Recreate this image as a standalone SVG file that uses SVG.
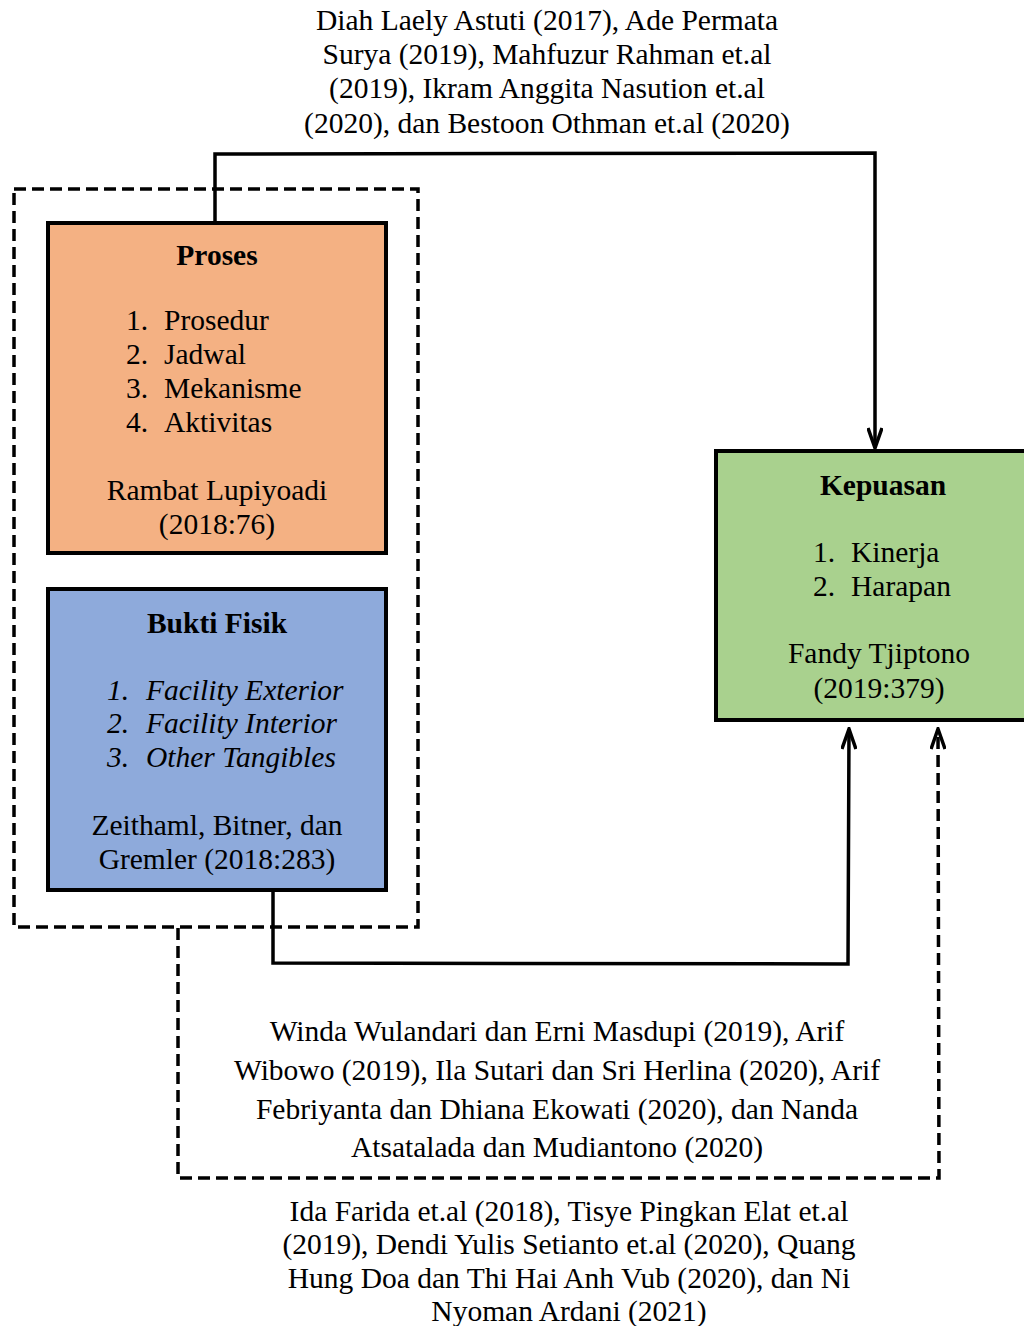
<svg xmlns="http://www.w3.org/2000/svg" width="1024" height="1326" viewBox="0 0 1024 1326">
<style>
text{font-family:'Liberation Serif','Times New Roman',serif;font-size:29.5px;fill:#000}
.c{text-anchor:middle}
.b{font-weight:bold}
.i{font-style:italic}
.box{stroke:#000;stroke-width:4}
.ln{fill:none;stroke:#000;stroke-width:3.5}
.dash{fill:none;stroke:#000;stroke-width:3.5;stroke-dasharray:12 6}
</style>
<defs>
<marker id="ah" viewBox="0 0 24 16" refX="22" refY="8" markerWidth="24" markerHeight="16" markerUnits="userSpaceOnUse" orient="auto">
<path d="M2,1 L22,8 L2,15" fill="none" stroke="#000" stroke-width="3.5"/>
</marker>
</defs>
<rect width="1024" height="1326" fill="#fff"/>
<g id="group-box">
<rect x="14" y="189" width="404" height="738" class="dash"/>
</g>
<g id="connectors">
<polyline class="ln" points="215,222 215,154 875,153 875,448" marker-end="url(#ah)"/>
<polyline class="ln" points="273,891 273,963 848,964 849,729" marker-end="url(#ah)"/>
<polyline class="dash" points="178,928 178,1178 939,1178 938,729" marker-end="url(#ah)"/>
</g>
<g id="node-proses">
<rect x="48" y="223" width="338" height="330" fill="#F4B183" class="box"/>
<text x="217" y="265" class="c b">Proses</text>
<text x="126" y="330">1.</text><text x="164" y="330">Prosedur</text>
<text x="126" y="364">2.</text><text x="164" y="364">Jadwal</text>
<text x="126" y="398">3.</text><text x="164" y="398">Mekanisme</text>
<text x="126" y="432">4.</text><text x="164" y="432">Aktivitas</text>
<text x="217" y="500" class="c">Rambat Lupiyoadi</text>
<text x="217" y="534" class="c">(2018:76)</text>
</g>
<g id="node-bukti">
<rect x="48" y="589" width="338" height="301" fill="#8EAADB" class="box"/>
<text x="217" y="633" class="c b">Bukti Fisik</text>
<text x="107" y="700" class="i">1.</text><text x="146" y="700" class="i">Facility Exterior</text>
<text x="107" y="733" class="i">2.</text><text x="146" y="733" class="i">Facility Interior</text>
<text x="107" y="767" class="i">3.</text><text x="146" y="767" class="i">Other Tangibles</text>
<text x="217" y="835" class="c">Zeithaml, Bitner, dan</text>
<text x="217" y="869" class="c">Gremler (2018:283)</text>
</g>
<g id="node-kepuasan">
<rect x="716" y="451" width="320" height="269" fill="#A9D18E" class="box"/>
<text x="883" y="495" class="c b">Kepuasan</text>
<text x="813" y="562">1.</text><text x="851" y="562">Kinerja</text>
<text x="813" y="596">2.</text><text x="851" y="596">Harapan</text>
<text x="879" y="663" class="c">Fandy Tjiptono</text>
<text x="879" y="698" class="c">(2019:379)</text>
</g>
<g id="label-top">
<text x="547" y="30" class="c">Diah Laely Astuti (2017), Ade Permata</text>
<text x="547" y="64" class="c">Surya (2019), Mahfuzur Rahman et.al</text>
<text x="547" y="98" class="c">(2019), Ikram Anggita Nasution et.al</text>
<text x="547" y="133" class="c">(2020), dan Bestoon Othman et.al (2020)</text>
</g>
<g id="label-middle">
<text x="557" y="1041" class="c">Winda Wulandari dan Erni Masdupi (2019), Arif</text>
<text x="557" y="1080" class="c">Wibowo (2019), Ila Sutari dan Sri Herlina (2020), Arif</text>
<text x="557" y="1119" class="c">Febriyanta dan Dhiana Ekowati (2020), dan Nanda</text>
<text x="557" y="1157" class="c">Atsatalada dan Mudiantono (2020)</text>
</g>
<g id="label-bottom">
<text x="569" y="1221" class="c">Ida Farida et.al (2018), Tisye Pingkan Elat et.al</text>
<text x="569" y="1254" class="c">(2019), Dendi Yulis Setianto et.al (2020), Quang</text>
<text x="569" y="1288" class="c">Hung Doa dan Thi Hai Anh Vub (2020), dan Ni</text>
<text x="569" y="1321" class="c">Nyoman Ardani (2021)</text>
</g>
</svg>
